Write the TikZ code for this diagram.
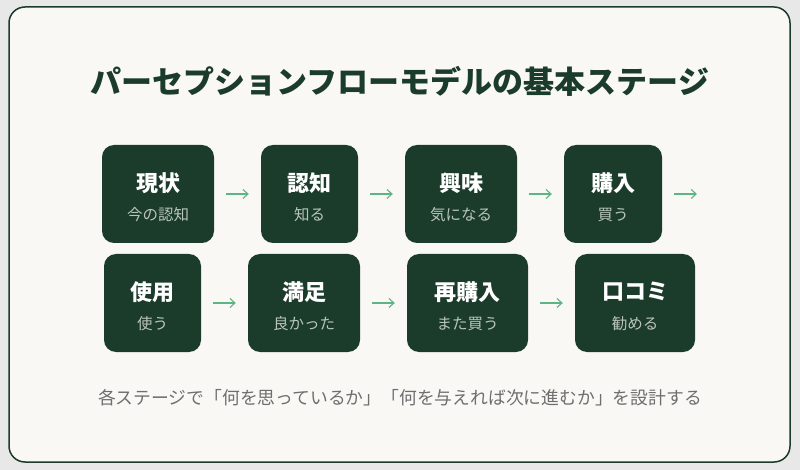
\documentclass[tikz,border=0pt]{standalone}
\usepackage{fontspec}
\newfontfamily\jp{Noto Sans CJK JP}
\usetikzlibrary{arrows.meta,calc}
\definecolor{outerbg}{HTML}{E8E8E8}
\definecolor{cardbg}{HTML}{F9F8F5}
\definecolor{darkgreen}{HTML}{1B3B2B}
\definecolor{subtxt}{HTML}{B9C5BC}
\definecolor{arrowgreen}{HTML}{5DB583}
\definecolor{foottxt}{HTML}{6E6E6E}
\begin{document}
\begin{tikzpicture}[x=1pt,y=-1pt,
  stage/.style={draw=none,fill=darkgreen,rounded corners=12pt,minimum height=98pt,inner sep=0pt},
  mainlbl/.style={text=white,font=\jp\bfseries\fontsize{22}{26}\selectfont,inner sep=0pt},
  sublbl/.style={text=subtxt,font=\jp\fontsize{15.5}{18}\selectfont,inner sep=0pt},
  flow/.style={draw=arrowgreen,line width=1.1pt,-{Straight Barb[length=5pt,width=9pt,line width=1.1pt]},shorten <=12pt,shorten >=12pt},
  titlestyle/.style={text=darkgreen,font=\jp\bfseries\fontsize{31}{36}\selectfont,inner sep=0pt},
  footstyle/.style={text=foottxt,font=\jp\fontsize{17.8}{21}\selectfont,inner sep=0pt}
]
\useasboundingbox (0,0) rectangle (800,470);
\fill[outerbg] (0,0) rectangle (800,470);
\draw[fill=cardbg,draw=darkgreen,line width=1.5pt,rounded corners=16pt] (9,7) rectangle (790,462);

\node[titlestyle] (title) at (400,81) {パーセプションフローモデルの基本ステージ};

% row 1
\node[stage,minimum width=112pt] (s1) at (158,194) {};
\node[stage,minimum width=97pt] (s2) at (309.5,194) {};
\node[stage,minimum width=112pt] (s3) at (461,194) {};
\node[stage,minimum width=98pt] (s4) at (613,194) {};
\coordinate (s4next) at (709,194);
% row 2
\node[stage,minimum width=97pt] (s5) at (152.5,303) {};
\node[stage,minimum width=112pt] (s6) at (304,303) {};
\node[stage,minimum width=121pt] (s7) at (467.5,303) {};
\node[stage,minimum width=120pt] (s8) at (635,303) {};

\foreach \n/\m/\s in {s1/現状/今の認知,s2/認知/知る,s3/興味/気になる,s4/購入/買う,s5/使用/使う,s6/満足/良かった,s7/再購入/また買う,s8/口コミ/勧める}{
  \node[mainlbl] (\n m) at ($(\n.center)+(0,-11)$) {\m};
  \node[sublbl] (\n s) at ($(\n.center)+(0,21)$) {\s};
}

\draw[flow] (s1.east) -- (s2.west);
\draw[flow] (s2.east) -- (s3.west);
\draw[flow] (s3.east) -- (s4.west);
\draw[flow] (s4.east) -- (s4next);
\draw[flow] (s5.east) -- (s6.west);
\draw[flow] (s6.east) -- (s7.west);
\draw[flow] (s7.east) -- (s8.west);

\node[footstyle] (foot) at (400,398) {各ステージで「何を思っているか」「何を与えれば次に進むか」を設計する};
\end{tikzpicture}
\end{document}
